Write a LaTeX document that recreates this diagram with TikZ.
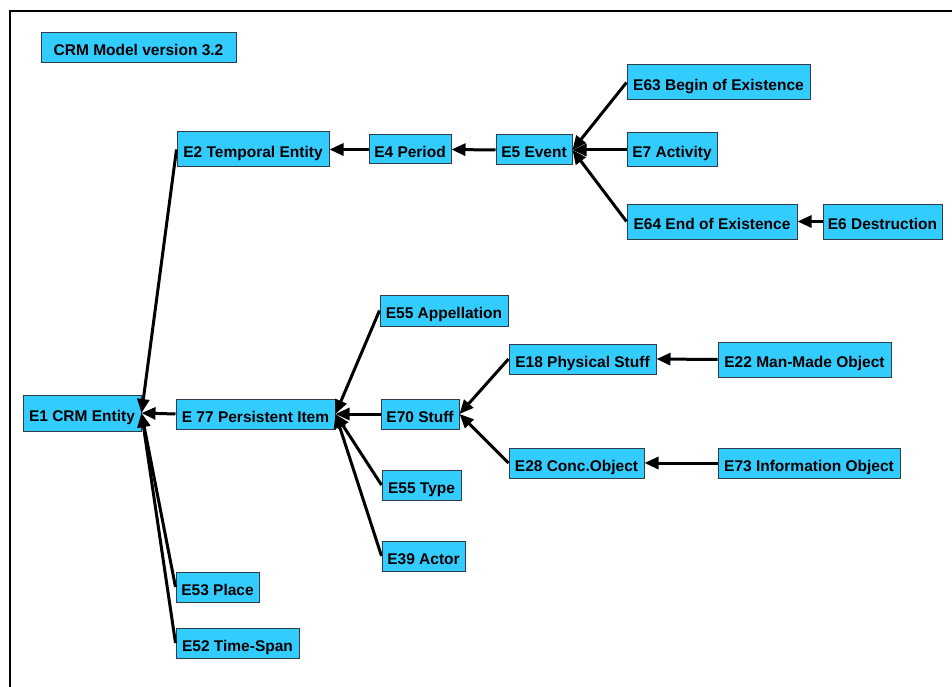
\documentclass[tikz,border=0pt]{standalone}
\usepackage{fontspec}
\setmainfont{Liberation Sans}
\usetikzlibrary{arrows.meta}
\definecolor{boxfill}{RGB}{51,204,255}
\definecolor{boxline}{RGB}{50,60,70}
\tikzset{
  box/.style={draw=boxline, line width=1pt, fill=boxfill, inner sep=0pt,
    text height=16pt, text depth=0pt,
    font=\fontsize{15.5}{18}\selectfont\bfseries, text=black},
  isa/.style={line width=3pt, -{Triangle[length=14pt,width=12pt]}}
}
\newcommand{\bx}[6]{% name, x1, y1, x2, y2, text
  \node[box, minimum width={(#4-#2)*1pt}, minimum height={(#5-#3)*1pt}]
    (#1) at ({(#2+#4)/2},{(#3+#5)/2}) {#6};}
\begin{document}
\begin{tikzpicture}[x=1pt,y=-1pt]
\useasboundingbox (0,0) rectangle (952,687);
\fill[white] (0,0) rectangle (952,687);
\draw[line width=2.8pt] (952,11) -- (10,11) -- (10,687);

\bx{title}{41}{33}{236}{63}{CRM Model version 3.2}
\bx{e2}{177}{132}{329}{167}{E2 Temporal Entity}
\bx{e4}{369}{135}{451}{164}{E4 Period}
\bx{e5}{496}{135}{572}{165}{E5 Event}
\bx{e63}{627}{65}{810}{100}{E63 Begin of Existence}
\bx{e7}{627}{133}{717}{167}{E7 Activity}
\bx{e64}{627}{204}{797}{239}{E64 End of Existence}
\bx{e6}{823}{204}{942}{239}{E6 Destruction}
\bx{e55a}{380}{295}{508}{326}{E55 Appellation}
\bx{e18}{509}{344}{656}{374}{E18 Physical Stuff}
\bx{e22}{718}{342}{891}{377}{E22 Man-Made Object}
\bx{e28}{509}{448}{644}{478}{E28 Conc.Object}
\bx{e73}{718}{448}{900}{478}{E73 Information Object}
\bx{e70}{381}{399}{459}{429}{E70 Stuff}
\bx{e1}{23}{395}{141}{431}{E1 CRM Entity}
\bx{e77}{176}{399}{335}{429}{E 77 Persistent Item}
\bx{e55t}{382}{470}{461}{500}{E55 Type}
\bx{e39}{382}{541}{465}{571}{E39 Actor}
\bx{e53}{176}{572}{259}{602}{E53 Place}
\bx{e52}{176}{628}{299}{658}{E52 Time-Span}

\draw[isa] (e2.west) -- (e1.east);
\draw[isa] (e77.west) -- (e1.east);
\draw[isa] (e53.west) -- (e1.east);
\draw[isa] (e52.west) -- (e1.east);
\draw[isa] (e4.west) -- (e2.east);
\draw[isa] (e5.west) -- (e4.east);
\draw[isa] (e63.west) -- (e5.east);
\draw[isa] (e7.west) -- (e5.east);
\draw[isa] (e64.west) -- (e5.east);
\draw[isa] (e6.west) -- (e64.east);
\draw[isa] (e55a.west) -- (e77.east);
\draw[isa] (e70.west) -- (e77.east);
\draw[isa] (e55t.west) -- (e77.east);
\draw[isa] (e39.west) -- (e77.east);
\draw[isa] (e18.west) -- (e70.east);
\draw[isa] (e28.west) -- (e70.east);
\draw[isa] (e22.west) -- (e18.east);
\draw[isa] (e73.west) -- (e28.east);
\end{tikzpicture}
\end{document}
